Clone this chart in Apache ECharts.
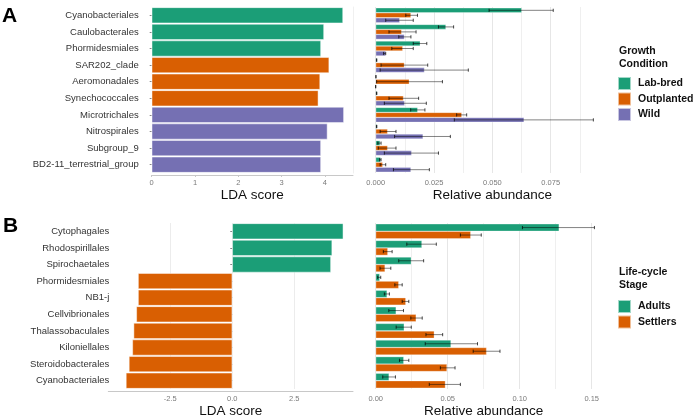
<!DOCTYPE html>
<html>
<head>
<meta charset="utf-8">
<script src="https://cdn.jsdelivr.net/npm/echarts@6/dist/echarts.min.js"></script>
<style>
  html, body { margin: 0; padding: 0; background: #fff; }
  #chart { width: 696px; height: 419px; }
</style>
</head>
<body>
<div id="chart"></div>
<script>
// panel A: growth condition
const ordersA = ['Cyanobacteriales', 'Caulobacterales', 'Phormidesmiales', 'SAR202_clade', 'Aeromonadales',
  'Synechococcales', 'Microtrichales', 'Nitrospirales', 'Subgroup_9', 'BD2-11_terrestrial_group'];
const ldaA = [4.42, 3.98, 3.91, 4.10, 3.89, 3.85, 4.44, 4.06, 3.91, 3.91];
const groupA = ['Lab-bred', 'Lab-bred', 'Lab-bred', 'Outplanted', 'Outplanted', 'Outplanted', 'Wild', 'Wild', 'Wild', 'Wild'];
const conditions = ['Lab-bred', 'Outplanted', 'Wild'];

const labBred = [0.0626, 0.0301, 0.0191, 0.0004, 0.0001, 0.0004, 0.0180, 0.0004, 0.0019, 0.0021];
const labBredLow = [0.0486, 0.0269, 0.0161, 0.0003, 0.0001, 0.0003, 0.0150, 0.0003, 0.0009, 0.0017];
const labBredHigh = [0.0761, 0.0334, 0.0219, 0.0005, 0.0001, 0.0005, 0.0211, 0.0005, 0.0023, 0.0023];
const outplanted = [0.0151, 0.0111, 0.0116, 0.0123, 0.0144, 0.0119, 0.0369, 0.0051, 0.0051, 0.0030];
const outplantedLow = [0.0129, 0.0057, 0.0069, 0.0023, 0.0004, 0.0057, 0.0347, 0.0019, 0.0011, 0.0019];
const outplantedHigh = [0.0179, 0.0173, 0.0161, 0.0223, 0.0286, 0.0184, 0.0390, 0.0087, 0.0087, 0.0043];
const wild = [0.0103, 0.0123, 0.0043, 0.0209, 0.0000, 0.0124, 0.0636, 0.0203, 0.0154, 0.0151];
const wildLow = [0.0043, 0.0099, 0.0034, 0.0019, 0.0000, 0.0037, 0.0337, 0.0081, 0.0037, 0.0076];
const wildHigh = [0.0161, 0.0151, 0.0043, 0.0397, 0.0000, 0.0217, 0.0933, 0.0320, 0.0269, 0.0230];

// panel B: life-cycle stage
const ordersB = ['Cytophagales', 'Rhodospirillales', 'Spirochaetales', 'Phormidesmiales', 'NB1-j',
  'Cellvibrionales', 'Thalassobaculales', 'Kiloniellales', 'Steroidobacterales', 'Cyanobacteriales'];
const ldaB = [4.48, 4.03, 3.98, -3.80, -3.80, -3.87, -3.98, -4.03, -4.17, -4.29];
const stages = ['Adults', 'Settlers'];

const adults = [0.1274, 0.0321, 0.0247, 0.0028, 0.0079, 0.0142, 0.0198, 0.0523, 0.0195, 0.0093];
const adultsLow = [0.1019, 0.0216, 0.0160, 0.0014, 0.0060, 0.0091, 0.0142, 0.0344, 0.0165, 0.0049];
const adultsHigh = [0.1519, 0.0421, 0.0333, 0.0035, 0.0095, 0.0193, 0.0247, 0.0707, 0.0230, 0.0137];
const settlers = [0.0660, 0.0084, 0.0065, 0.0160, 0.0209, 0.0281, 0.0407, 0.0770, 0.0495, 0.0484];
const settlersLow = [0.0588, 0.0053, 0.0030, 0.0133, 0.0184, 0.0244, 0.0349, 0.0677, 0.0449, 0.0372];
const settlersHigh = [0.0733, 0.0114, 0.0105, 0.0184, 0.0230, 0.0323, 0.0465, 0.0863, 0.0551, 0.0588];

const colors = {
  'Lab-bred': '#1B9E77', 'Outplanted': '#D95F02', 'Wild': '#7570B3',
  'Adults': '#1B9E77', 'Settlers': '#D95F02'
};
const FONT = '"Liberation Sans", Arial, sans-serif';
const GROUP_GAP = 0.1;

const tickLabel = { fontSize: 7.5, color: '#7a7a7a', fontFamily: FONT, margin: 4 };
const axisTitle = { fontSize: 13.5, color: '#111', fontFamily: FONT };
const catLabel = { fontSize: 9.5, color: '#333', fontFamily: FONT, margin: 4 };

function abundanceBar(name, values, idx) {
  return {
    type: 'bar', name: name, xAxisIndex: idx, yAxisIndex: idx,
    data: values, barGap: '0%', barCategoryGap: (GROUP_GAP * 100) + '%',
    itemStyle: { color: colors[name], borderColor: 'rgba(255,255,255,0.6)', borderWidth: 0.5 }
  };
}

function errorBars(name, low, high, idx, pos, count) {
  return {
    type: 'custom', name: name + ' sd', xAxisIndex: idx, yAxisIndex: idx, z: 10,
    data: low.map((l, i) => [i, l, high[i]]),
    encode: { x: [1, 2], y: 0 },
    renderItem: (params, api) => {
      const cat = api.value(0);
      const a = api.coord([api.value(1), cat]);
      const b = api.coord([api.value(2), cat]);
      const band = api.size([0, 1])[1];
      const w = band * (1 - GROUP_GAP) / count;
      const y = a[1] - band * (1 - GROUP_GAP) / 2 + w * (pos + 0.5);
      const line = { stroke: 'rgba(0,0,0,0.55)', lineWidth: 0.9 };
      const cap = { stroke: 'rgba(0,0,0,0.8)', lineWidth: 0.9 };
      return {
        type: 'group',
        children: [
          { type: 'line', shape: { x1: a[0], y1: y, x2: b[0], y2: y }, style: line },
          { type: 'line', shape: { x1: a[0], y1: y - 1.6, x2: a[0], y2: y + 1.6 }, style: cap },
          { type: 'line', shape: { x1: b[0], y1: y - 1.6, x2: b[0], y2: y + 1.6 }, style: cap }
        ]
      };
    }
  };
}

let myChart = echarts.init(document.getElementById('chart'));
const option = {
  animation: false,
  backgroundColor: '#fff',
  textStyle: { fontFamily: FONT },
  grid: [
    { left: 151.7, right: 343, top: 7, height: 166 },
    { left: 375.7, right: 87, top: 7, height: 166 },
    { left: 108.3, right: 343, top: 223, height: 166 },
    { left: 375.7, right: 104.3, top: 223, height: 166 }
  ],
  xAxis: [
    {
      gridIndex: 0, type: 'value', min: 0, max: 4.65, interval: 1, offset: 2,
      axisLine: { show: true, lineStyle: { color: '#c8c8c8' } },
      axisTick: { show: true, length: 2, lineStyle: { color: '#c8c8c8' } },
      axisLabel: Object.assign({ showMaxLabel: false }, tickLabel),
      splitLine: { show: false },
      name: 'LDA score', nameLocation: 'middle', nameGap: 12, nameTextStyle: axisTitle
    },
    {
      gridIndex: 1, type: 'value', min: 0, max: 0.1, interval: 0.025,
      axisLine: { show: false }, axisTick: { show: false },
      axisLabel: Object.assign({ showMaxLabel: false, formatter: v => v.toFixed(3) }, tickLabel, { margin: 6 }),
      splitLine: { show: true, showMaxLine: false, lineStyle: { color: '#e6e6e6' } },
      minorTick: { show: false, splitNumber: 2 },
      minorSplitLine: { show: true, lineStyle: { color: '#efefef' } },
      name: 'Relative abundance', nameLocation: 'middle', nameGap: 14, nameTextStyle: axisTitle
    },
    {
      gridIndex: 2, type: 'value', min: -5, max: 4.87, interval: 2.5, offset: 2,
      axisLine: { show: true, lineStyle: { color: '#c8c8c8' } },
      axisTick: { show: false },
      axisLabel: Object.assign({ showMinLabel: false, showMaxLabel: false, formatter: v => v.toFixed(1) }, tickLabel),
      splitLine: { show: true, showMinLine: false, showMaxLine: false, lineStyle: { color: '#ececec' } },
      name: 'LDA score', nameLocation: 'middle', nameGap: 12, nameTextStyle: axisTitle
    },
    {
      gridIndex: 3, type: 'value', min: 0, max: 0.15, interval: 0.05,
      axisLine: { show: false }, axisTick: { show: false },
      axisLabel: Object.assign({ formatter: v => v.toFixed(2) }, tickLabel, { margin: 6 }),
      splitLine: { show: true, lineStyle: { color: '#e6e6e6' } },
      minorTick: { show: false, splitNumber: 2 },
      minorSplitLine: { show: true, lineStyle: { color: '#efefef' } },
      name: 'Relative abundance', nameLocation: 'middle', nameGap: 14, nameTextStyle: axisTitle
    }
  ],
  yAxis: [
    {
      gridIndex: 0, type: 'category', data: ordersA, inverse: true, offset: 9,
      axisLine: { show: false },
      axisTick: { show: true, length: 2, alignWithLabel: true, lineStyle: { color: '#888' } },
      axisLabel: catLabel
    },
    {
      gridIndex: 1, type: 'category', data: ordersA, inverse: true,
      axisLine: { show: false }, axisTick: { show: false }, axisLabel: { show: false }
    },
    {
      gridIndex: 2, type: 'category', data: ordersB, inverse: true, offset: -5,
      axisLine: { show: false },
      axisTick: { show: true, length: 2, alignWithLabel: true, lineStyle: { color: '#888' } },
      axisLabel: catLabel
    },
    {
      gridIndex: 3, type: 'category', data: ordersB, inverse: true,
      axisLine: { show: false }, axisTick: { show: false }, axisLabel: { show: false }
    },
    {
      gridIndex: 0, type: 'category', data: ordersA, position: 'right',
      axisLine: { show: true, lineStyle: { color: '#f0f0f0' } },
      axisTick: { show: false }, axisLabel: { show: false }
    }
  ],
  legend: [
    {
      data: conditions, orient: 'vertical', left: 617, top: 76, padding: 0,
      itemWidth: 13, itemHeight: 13, itemGap: 0.5, icon: 'rect', selectedMode: false,
      textStyle: { fontSize: 10.5, fontWeight: 'bold', color: '#111', fontFamily: FONT, padding: [0, 0, 0, 2] }
    },
    {
      data: stages, orient: 'vertical', left: 617, top: 299, padding: 0,
      itemWidth: 13, itemHeight: 13, itemGap: 0.5, icon: 'rect', selectedMode: false,
      textStyle: { fontSize: 10.5, fontWeight: 'bold', color: '#111', fontFamily: FONT, padding: [0, 0, 0, 2] }
    }
  ],
  graphic: [
    { type: 'text', left: 2, top: 6, style: { text: 'A', font: 'bold 21px ' + FONT, fill: '#000' } },
    { type: 'text', left: 3, top: 216, style: { text: 'B', font: 'bold 21px ' + FONT, fill: '#000' } },
    { type: 'text', left: 619, top: 45, style: { text: 'Growth\nCondition', font: 'bold 10.5px ' + FONT, fill: '#111', lineHeight: 12.5 } },
    { type: 'text', left: 619, top: 266, style: { text: 'Life-cycle\nStage', font: 'bold 10.5px ' + FONT, fill: '#111', lineHeight: 13 } }
  ],
  series: [
    {
      type: 'bar', name: 'LDA A', xAxisIndex: 0, yAxisIndex: 0, barCategoryGap: '4%',
      data: ldaA.map((v, i) => ({ value: v, itemStyle: { color: colors[groupA[i]] } })),
      itemStyle: { borderColor: 'rgba(255,255,255,0.8)', borderWidth: 0.6 }
    },
    abundanceBar('Lab-bred', labBred, 1),
    abundanceBar('Outplanted', outplanted, 1),
    abundanceBar('Wild', wild, 1),
    errorBars('Lab-bred', labBredLow, labBredHigh, 1, 0, 3),
    errorBars('Outplanted', outplantedLow, outplantedHigh, 1, 1, 3),
    errorBars('Wild', wildLow, wildHigh, 1, 2, 3),
    {
      type: 'bar', name: 'LDA B', xAxisIndex: 2, yAxisIndex: 2, barCategoryGap: '4%',
      data: ldaB.map(v => ({ value: v, itemStyle: { color: v > 0 ? colors['Adults'] : colors['Settlers'] } })),
      itemStyle: { borderColor: 'rgba(255,255,255,0.8)', borderWidth: 0.6 }
    },
    abundanceBar('Adults', adults, 3),
    abundanceBar('Settlers', settlers, 3),
    errorBars('Adults', adultsLow, adultsHigh, 3, 0, 2),
    errorBars('Settlers', settlersLow, settlersHigh, 3, 1, 2)
  ]
};

option && myChart.setOption(option);
window.addEventListener('resize', () => {
  myChart.resize();
});
</script>
</body>
</html>
